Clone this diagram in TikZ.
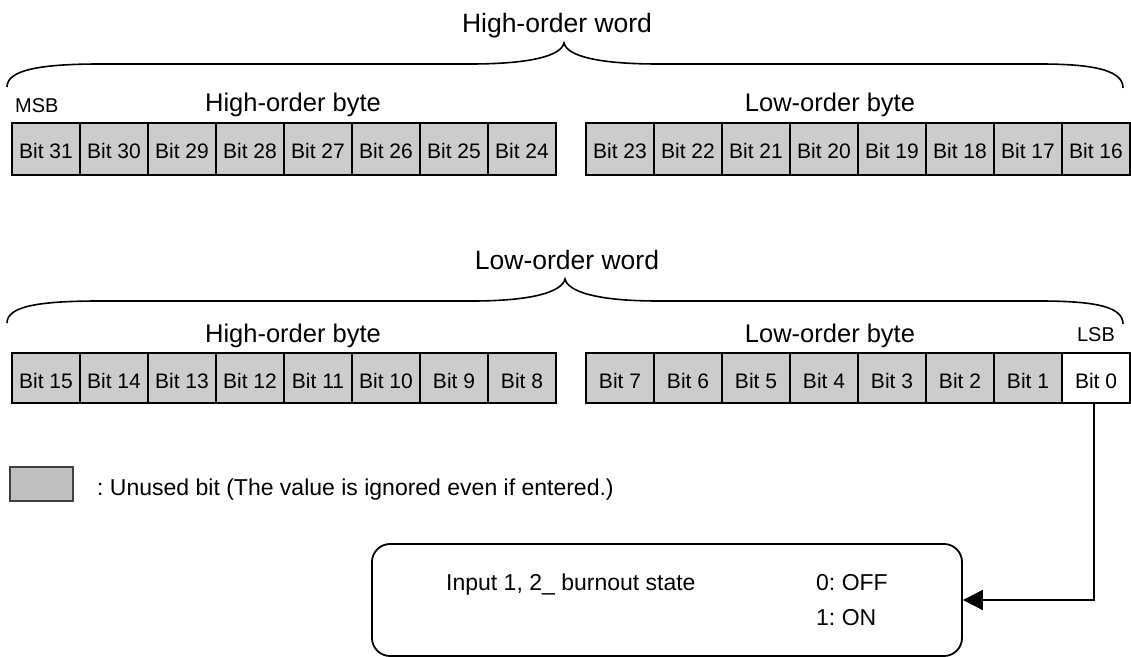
\documentclass[tikz,border=0pt]{standalone}
\usepackage{fontspec}
\setmainfont{Liberation Sans}
\usetikzlibrary{arrows.meta}
\definecolor{cellgray}{HTML}{CCCCCC}
\definecolor{leggray}{HTML}{C0C0C0}
\frenchspacing
\begin{document}
\begin{tikzpicture}[x=1bp,y=-1bp,
  bitcell/.style={draw=black, line width=1.6bp, fill=cellgray, minimum width=68bp,
    minimum height=50bp, inner sep=0pt, text height=20bp, text depth=0pt,
    font=\fontsize{21bp}{25bp}\selectfont},
  toprow/.style={minimum height=52bp},
  wordlbl/.style={anchor=base, inner sep=0pt, font=\fontsize{26.5bp}{31bp}\selectfont},
  bytelbl/.style={anchor=base, inner sep=0pt, font=\fontsize{25.5bp}{30bp}\selectfont},
  sblbl/.style={anchor=base, inner sep=0pt, font=\fontsize{20bp}{24bp}\selectfont},
  desctxt/.style={anchor=base west, inner sep=0pt, font=\fontsize{23bp}{27bp}\selectfont},
  bracepath/.style={line width=1.6bp},
  conn/.style={line width=1.8bp, -{Triangle[length=20bp,width=20bp]}}
]
\useasboundingbox (0,0) rectangle (1131,657);

% word labels
\node[wordlbl] (hw) at (557,33) {High-order word};
\node[wordlbl] (lw) at (567,269) {Low-order word};

% braces
\draw[bracepath] (7,87) .. controls (7,70) and (40,64) .. (100,64) -- (470,64)
  .. controls (530,64) and (561,56) .. (564,43)
  .. controls (567,56) and (598,64) .. (658,64) -- (1040,64)
  .. controls (1100,64) and (1123,72) .. (1123,88);
\draw[bracepath] (7,323) .. controls (7,306) and (40,301) .. (100,301) -- (472,301)
  .. controls (532,301) and (562,292) .. (565,279)
  .. controls (568,292) and (598,301) .. (658,301) -- (1040,301)
  .. controls (1100,301) and (1123,308) .. (1123,324);

% byte labels
\node[sblbl, anchor=base west] (msb) at (15,113) {MSB};
\node[bytelbl] (hb1) at (293,112) {High-order byte};
\node[bytelbl] (lb1) at (830,112) {Low-order byte};
\node[bytelbl] (hb2) at (293,342) {High-order byte};
\node[bytelbl] (lb2) at (830,342) {Low-order byte};
\node[sblbl] (lsb) at (1096,341) {LSB};

% top row
\foreach \n [count=\i from 0] in {31,30,...,24}
  \node[bitcell, toprow] (c\n) at ({46+68*\i},149) {Bit \n};
\foreach \n [count=\i from 0] in {23,22,...,16}
  \node[bitcell, toprow] (c\n) at ({620+68*\i},149) {Bit \n};

% bottom row
\foreach \n [count=\i from 0] in {15,14,...,8}
  \node[bitcell] (c\n) at ({46+68*\i},378) {Bit \n};
\foreach \n [count=\i from 0] in {7,6,...,1}
  \node[bitcell] (c\n) at ({620+68*\i},378) {Bit \n};
\node[bitcell, fill=white] (c0) at (1096,378) {Bit 0};

% legend
\node[draw=black!75, line width=1.2bp, fill=leggray, minimum width=63bp,
  minimum height=34bp, inner sep=0pt] (leg) at (41.5,484) {};
\node[desctxt] (legtxt) at (97,495) {: Unused bit (The value is ignored even if entered.)};

% description box
\node[draw=black, line width=1.8bp, rounded corners=18bp, minimum width=590bp,
  minimum height=112bp, inner sep=0pt] (desc) at (667,600) {};
\node[desctxt] (dtxt) at (446,590) {Input 1, 2\_ burnout state};
\node[desctxt] (off) at (816,590) {0: OFF};
\node[desctxt] (on) at (816,625) {1: ON};

% connector
\draw[conn] ([xshift=-2bp]c0.south) |- (desc.east);
\end{tikzpicture}
\end{document}
